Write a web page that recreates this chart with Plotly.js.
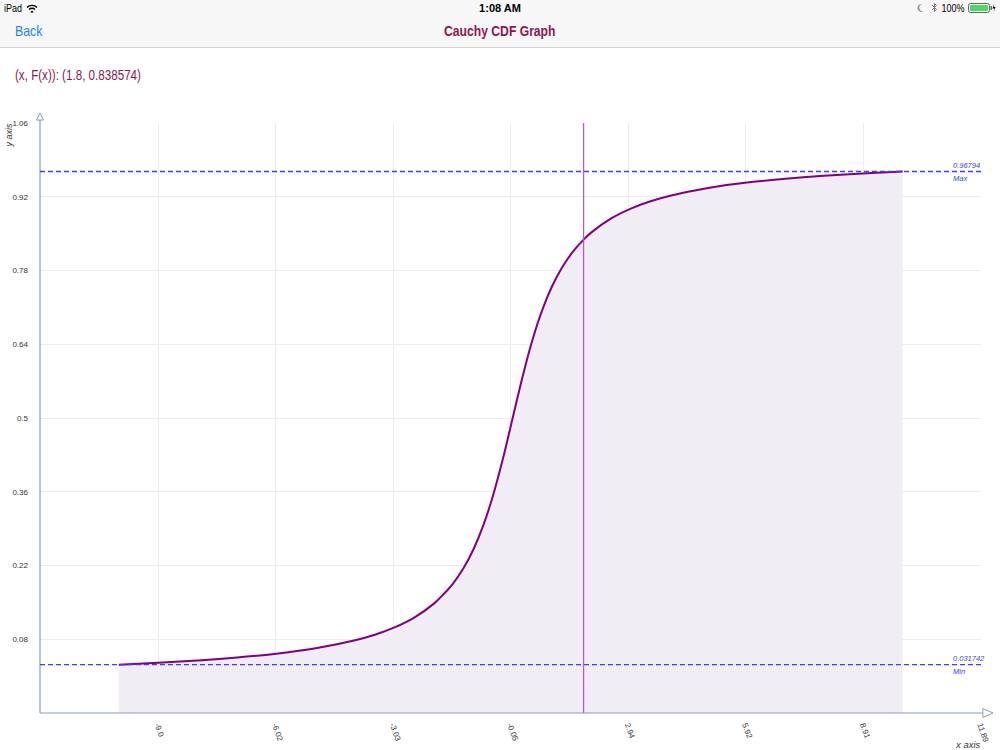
<!DOCTYPE html>
<html>
<head>
<meta charset="utf-8">
<script src="https://cdn.plot.ly/plotly-3.0.1.min.js"></script>
<style>
  html, body { margin: 0; padding: 0; background: #fff; width: 1000px; height: 750px; overflow: hidden; font-family: "Liberation Sans", Arial, sans-serif; }
  #chart { position: absolute; left: 0; top: 0; width: 1000px; height: 750px; }
  #header { position: absolute; left: 0; top: 0; width: 1000px; height: 47px; background: #f7f7f7; border-bottom: 1px solid #d4d4d4; z-index: 5; }
  .status { position: absolute; top: 2px; font-size: 11px; color: #000; }
  .narrow { display: inline-block; transform: scaleX(0.82); }
  #back { position: absolute; left: 15px; top: 22px; font-size: 15px; color: #1a82fb; transform: scaleX(0.82); transform-origin: left center; }
  #navtitle { position: absolute; left: 0; width: 1000px; top: 22px; text-align: center; font-size: 15px; font-weight: bold; color: #8b1750; }
  #navtitle span { display: inline-block; transform: scaleX(0.81); transform-origin: center center; }
  #readout { position: absolute; left: 15px; top: 67px; font-size: 14px; color: #8b1750; z-index: 5; transform: scaleX(0.83); transform-origin: left center; white-space: nowrap; }
</style>
</head>
<body>
<div id="chart"></div>
<div id="header">
  <div class="status" style="left:4px;"><span class="narrow" style="transform-origin:left center;margin-right:-4px">iPad</span>
    <svg width="12" height="9" viewBox="0 0 12 9" style="vertical-align:-1px;margin-left:1px"><path d="M1 3.5 A7 7 0 0 1 11 3.5" stroke="#000" stroke-width="1.3" fill="none"/><path d="M3 5.5 A4.2 4.2 0 0 1 9 5.5" stroke="#000" stroke-width="1.3" fill="none"/><circle cx="6" cy="7.8" r="1.1" fill="#000"/></svg>
  </div>
  <div class="status" style="left:0;width:1000px;text-align:center;font-weight:bold;font-size:11px;">1:08 AM</div>
  <div class="status" style="right:4px;">
    <svg width="8" height="10" viewBox="0 0 8 10" style="vertical-align:-1px"><path d="M5 1 A4 4 0 1 0 7 8 A3.3 3.3 0 1 1 5 1 Z" fill="#999"/></svg>
    <svg width="7" height="11" viewBox="0 0 7 11" style="vertical-align:-1px;margin-left:3px"><path d="M1 3 L5.5 7.5 L3.5 9.5 L3.5 1.5 L5.5 3.5 L1 8" stroke="#777" stroke-width="1" fill="none"/></svg>
    <span class="narrow" style="margin:0 -2px">100%</span>
    <svg width="28" height="10" viewBox="0 0 28 10" style="vertical-align:-1px"><rect x="0.5" y="0.5" width="21" height="9" rx="2" fill="none" stroke="#666"/><rect x="2" y="2" width="18" height="6" rx="1" fill="#4cd964"/><rect x="22.5" y="3" width="1.5" height="4" fill="#666"/><path d="M26 1 L24.5 5.5 L26.5 5.5 L25.5 9.5 L27.5 4 L25.8 4 Z" fill="#000"/></svg>
  </div>
  <div id="back">Back</div>
  <div id="navtitle"><span>Cauchy CDF Graph</span></div>
</div>
<div id="readout">(x, F(x)): (1.8, 0.838574)</div>
<script>
// Values
const xValues = [-10, -9, -8, -7, -6, -5, -4, -3.5, -3, -2.5, -2, -1.75, -1.5, -1.25, -1, -0.75, -0.5, -0.25, 0, 0.25, 0.5, 0.75, 1, 1.25, 1.5, 1.8, 2, 2.5, 3, 3.5, 4, 5, 6, 7, 8, 9, 9.9];
const cdfValues = [0.0317, 0.0353, 0.0396, 0.0452, 0.0526, 0.0628, 0.0780, 0.0885, 0.1024, 0.1211, 0.1476, 0.1659, 0.1872, 0.2148, 0.2500, 0.2952, 0.3524, 0.4220, 0.5000, 0.5780, 0.6476, 0.7048, 0.7500, 0.7852, 0.8128, 0.8386, 0.8524, 0.8789, 0.8976, 0.9115, 0.9220, 0.9372, 0.9474, 0.9548, 0.9604, 0.9647, 0.9679];
const selectedX = 1.8;
const selectedF = 0.838574;
const minValue = 0.031742;
const maxValue = 0.96794;
const xRange = [-12.0, 11.89];
const yRange = [-0.06, 1.06];
const xTickVals = [-9.0, -6.02, -3.03, -0.05, 2.94, 5.92, 8.91, 11.89];
const xTickText = ['-9.0', '-6.02', '-3.03', '-0.05', '2.94', '5.92', '8.91', '11.89'];
const yTickVals = [0.08, 0.22, 0.36, 0.5, 0.64, 0.78, 0.92, 1.06];
const yTickText = ['0.08', '0.22', '0.36', '0.5', '0.64', '0.78', '0.92', '1.06'];

const baseline = xValues.map(() => yRange[0]);

const axisColor = '#8c9cae';
const gridColor = '#ececec';
const dashColor = '#3d3dff';
const fontFam = 'Liberation Sans, Arial, sans-serif';

const traces = [
  { x: xValues, y: baseline, mode: 'lines', line: { width: 0, color: 'rgba(0,0,0,0)' }, hoverinfo: 'skip', showlegend: false },
  { x: xValues, y: cdfValues, mode: 'lines', line: { color: '#800080', width: 2, shape: 'spline' },
    fill: 'tonexty', fillcolor: '#f0eef4', showlegend: false }
];

const labelFont = { family: fontFam, size: 7.5, color: dashColor, style: 'italic' };
const labelX = 0.9705;

const layout = {
  width: 1000, height: 750,
  margin: { l: 40, r: 19, t: 123, b: 37 },
  paper_bgcolor: '#ffffff', plot_bgcolor: '#ffffff',
  showlegend: false,
  xaxis: {
    range: xRange, tickvals: xTickVals, ticktext: xTickText, tickangle: 70,
    showgrid: true, gridcolor: gridColor, gridwidth: 1, zeroline: false,
    showline: false, ticks: '', ticklabelstandoff: 5,
    tickfont: { family: fontFam, size: 8, color: '#333' }
  },
  yaxis: {
    range: yRange, tickvals: yTickVals, ticktext: yTickText,
    showgrid: true, gridcolor: gridColor, gridwidth: 1, zeroline: false,
    showline: false, ticks: '', ticklabelstandoff: 11,
    tickfont: { family: fontFam, size: 8, color: '#333' }
  },
  shapes: [
    { type: 'line', xref: 'paper', yref: 'paper', x0: 0, x1: 0, y0: 0, y1: 1.005, line: { color: axisColor, width: 1.2 } },
    { type: 'line', xref: 'paper', yref: 'paper', x0: 0, x1: 1.002, y0: 0, y1: 0, line: { color: axisColor, width: 1.2 } },
    { type: 'path', xref: 'paper', yref: 'paper', path: 'M -0.0037 1.005 L 0.0037 1.005 L 0 1.017 Z', line: { color: axisColor, width: 1 }, fillcolor: '#ffffff' },
    { type: 'path', xref: 'paper', yref: 'paper', path: 'M 1.002 -0.0076 L 1.002 0.0076 L 1.0128 0 Z', line: { color: axisColor, width: 1 }, fillcolor: '#ffffff' },
    { type: 'line', xref: 'paper', yref: 'y', x0: 0, x1: 1, y0: maxValue, y1: maxValue, line: { color: dashColor, width: 1.4, dash: '5px,3px' } },
    { type: 'line', xref: 'paper', yref: 'y', x0: 0, x1: 1, y0: minValue, y1: minValue, line: { color: dashColor, width: 1.1, dash: '5px,3px' } },
    { type: 'line', xref: 'x', yref: 'paper', x0: selectedX, x1: selectedX, y0: 0, y1: 1, line: { color: '#b25cc4', width: 1.3 } }
  ],
  annotations: [
    { xref: 'paper', yref: 'y', x: labelX, y: maxValue, xanchor: 'left', yanchor: 'bottom', xshift: -2, yshift: 0, text: String(maxValue), showarrow: false, font: labelFont },
    { xref: 'paper', yref: 'y', x: labelX, y: maxValue, xanchor: 'left', yanchor: 'top', xshift: -2, yshift: 0, text: 'Max', showarrow: false, font: labelFont },
    { xref: 'paper', yref: 'y', x: labelX, y: minValue, xanchor: 'left', yanchor: 'bottom', xshift: -2, yshift: 0, text: String(minValue), showarrow: false, font: labelFont },
    { xref: 'paper', yref: 'y', x: labelX, y: minValue, xanchor: 'left', yanchor: 'top', xshift: -2, yshift: 0, text: 'Min', showarrow: false, font: labelFont },
    { xref: 'paper', yref: 'paper', x: 0, y: 0.9797, xanchor: 'center', yanchor: 'middle', xshift: -31.5, textangle: -90, text: 'y axis', showarrow: false,
      font: { family: fontFam, size: 9, color: '#333', style: 'italic' } },
    { xref: 'paper', yref: 'paper', x: 1, y: 0, xanchor: 'right', yanchor: 'top', xshift: 2, yshift: -24, text: 'x axis', showarrow: false,
      font: { family: fontFam, size: 9.5, color: '#333', style: 'italic' } }
  ]
};

Plotly.newPlot('chart', traces, layout, { displayModeBar: false, staticPlot: true });
</script>
</body>
</html>
